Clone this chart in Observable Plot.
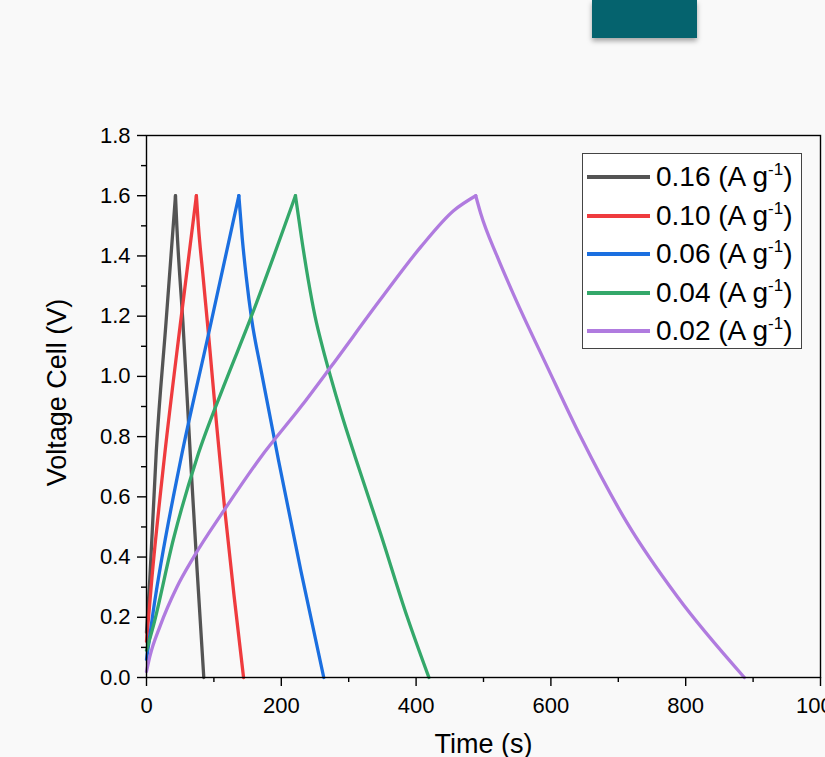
<!DOCTYPE html>
<html><head><meta charset="utf-8">
<script src="https://cdn.jsdelivr.net/npm/d3@7"></script>
<script src="https://cdn.jsdelivr.net/npm/@observablehq/plot@0.6"></script>
<style>
html,body{margin:0;padding:0;background:#f9f9f9;overflow:hidden;}
#wrap{position:relative;width:825px;height:757px;font-family:"Liberation Sans",Arial,sans-serif;}
#btn{position:absolute;left:592px;top:0;width:105px;height:38px;background:#05636e;box-shadow:0 3px 5px rgba(0,0,0,0.35);}
#legend{position:absolute;left:582px;top:153px;width:220px;height:196px;border:1.3px solid #444;background:#fff;box-sizing:border-box;}
.row{position:absolute;left:4px;height:30px;width:215px;}
.sw{position:absolute;left:0;top:13px;width:63px;height:4px;}
.lb{position:absolute;left:69px;top:0;font-size:28px;line-height:30px;color:#000;white-space:nowrap;}
.lb sup{font-size:17px;vertical-align:0;position:relative;top:-11px;}
</style></head>
<body><div id="wrap"><div id="chart"></div><div id="btn"></div><div id="legend"></div></div>
<script>
// series labels and colours
const seriesNames = ["0.16", "0.10", "0.06", "0.04", "0.02"];
const seriesColors = ["#545454", "#ef3b3e", "#1b6fe0", "#34a86a", "#b07bdf"];

// 0.16 A/g
const tCh016 = [0, 5, 14.5, 29, 43];
const vCh016 = [0.15, 0.33, 0.75, 1.18, 1.6];
const tDis016 = [43, 45, 54, 65, 75, 85];
const vDis016 = [1.6, 1.5, 1.18, 0.74, 0.36, 0];
// 0.10 A/g
const tCh010 = [0, 8, 27, 50, 74];
const vCh010 = [0.12, 0.33, 0.74, 1.17, 1.6];
const tDis010 = [74, 77, 84, 92, 104, 116, 130, 144];
const vDis010 = [1.6, 1.5, 1.33, 1.14, 0.84, 0.56, 0.27, 0];
// 0.06 A/g
const tCh006 = [0, 10, 50.5, 90, 137];
const vCh006 = [0.06, 0.22, 0.72, 1.12, 1.6];
const tDis006 = [137, 142, 148, 156, 170, 196, 229, 263];
const vDis006 = [1.6, 1.46, 1.33, 1.19, 1.02, 0.72, 0.355, 0];
// 0.04 A/g
const tCh004 = [0, 10, 40, 75, 115, 154, 221];
const vCh004 = [0.09, 0.17, 0.46, 0.73, 0.97, 1.19, 1.6];
const tDis004 = [221, 230, 240, 250, 262, 273, 290, 310, 347, 387, 419];
const vDis004 = [1.6, 1.46, 1.32, 1.2, 1.09, 1.0, 0.87, 0.73, 0.48, 0.2, 0];
// 0.02 A/g
const tCh002 = [0, 5, 20, 45, 70, 115, 169, 228.7, 273, 347, 407, 456, 488.5];
const vCh002 = [0.02, 0.07, 0.17, 0.30, 0.40, 0.555, 0.73, 0.898, 1.03, 1.255, 1.43, 1.551, 1.6];
const tDis002 = [488.5, 496, 520, 545, 595, 644, 714, 788, 887];
const vDis002 = [1.6, 1.54, 1.40, 1.27, 1.03, 0.80, 0.51, 0.267, 0];

// ticks
const xMajor = [0, 200, 400, 600, 800, 1000];
const xMinor = [100, 300, 500, 700, 900];
const yMajor = [0, 0.2, 0.4, 0.6, 0.8, 1.0, 1.2, 1.4, 1.6, 1.8];
const yMinor = [0.1, 0.3, 0.5, 0.7, 0.9, 1.1, 1.3, 1.5, 1.7];

const segs = [
  [seriesNames[0], tCh016, vCh016, tDis016, vDis016],
  [seriesNames[1], tCh010, vCh010, tDis010, vDis010],
  [seriesNames[2], tCh006, vCh006, tDis006, vDis006],
  [seriesNames[3], tCh004, vCh004, tDis004, vDis004],
  [seriesNames[4], tCh002, vCh002, tDis002, vDis002]
];
const rows = [];
for (const [s, tc, vc, td, vd] of segs) {
  tc.forEach((t, i) => rows.push({series: s, key: s + "c", t, v: vc[i]}));
  td.forEach((t, i) => rows.push({series: s, key: s + "d", t, v: vd[i]}));
}

const chart = Plot.plot({
  width: 825, height: 757,
  marginLeft: 146, marginRight: 5, marginTop: 135, marginBottom: 80,
  style: {background: "transparent", fontFamily: "Liberation Sans, Arial, sans-serif", overflow: "visible", color: "#000"},
  x: {domain: [0, 1000]},
  y: {domain: [0, 1.8]},
  color: {domain: seriesNames, range: seriesColors},
  marks: [
    Plot.line(rows, {x: "t", y: "v", z: "key", stroke: "series", curve: "monotone-x", strokeWidth: 3.3}),
    Plot.frame({stroke: "#000", strokeWidth: 1.4}),
    Plot.axisX({ticks: xMajor, tickSize: 9, tickPadding: 11, fontSize: 22, tickFormat: d => String(d), label: null, strokeWidth: 1.4}),
    Plot.axisX({ticks: xMinor, tickSize: 5, tickFormat: () => "", label: null, strokeWidth: 1.4}),
    Plot.axisY({ticks: yMajor, tickSize: 9, tickPadding: 7, fontSize: 22, tickFormat: d3.format(".1f"), label: null, strokeWidth: 1.4}),
    Plot.axisY({ticks: yMinor, tickSize: 5, tickFormat: () => "", label: null, strokeWidth: 1.4}),
    Plot.text(["Voltage Cell (V)"], {frameAnchor: "left", textAnchor: "middle", lineAnchor: "middle", dx: -89, dy: -14, rotate: -90, fontSize: 27}),
    Plot.text(["Time (s)"], {frameAnchor: "bottom", textAnchor: "middle", lineAnchor: "middle", dy: 67, fontSize: 27})
  ]
});
document.getElementById("chart").appendChild(chart);

// legend
const leg = document.getElementById("legend");
seriesNames.forEach((s, i) => {
  const r = document.createElement("div");
  r.className = "row";
  r.style.top = (8 + i * 38.5) + "px";
  r.innerHTML = `<div class="sw" style="background:${seriesColors[i]}"></div><div class="lb">${s} (A g<sup>-1</sup>)</div>`;
  leg.appendChild(r);
});
</script></body></html>
